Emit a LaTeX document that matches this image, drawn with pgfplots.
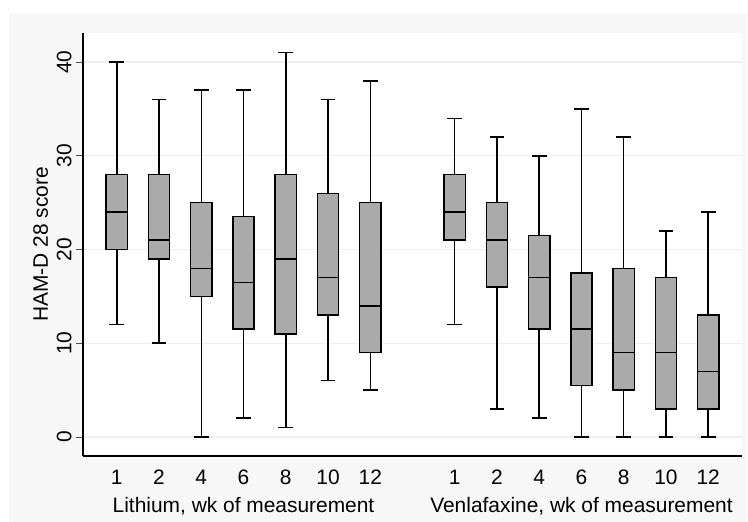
\documentclass[border=0pt]{standalone}
\usepackage{fontspec}
\setmainfont{Liberation Sans}
\usepackage{pgfplots}
\pgfplotsset{compat=1.18}
\usepgfplotslibrary{statistics}
\definecolor{boxgray}{RGB}{170,170,170}
\definecolor{bggray}{RGB}{247,247,247}
\definecolor{gridgray}{RGB}{239,239,239}
\newcommand{\lbl}{\fontsize{21}{25}\selectfont}

\begin{document}
\begin{tikzpicture}
\fill[white] (-83bp,-66bp) rectangle (665bp,456bp);
\fill[bggray] (-74bp,-66bp) rectangle (664bp,443bp);
\begin{axis}[
  at={(0,0)}, anchor=south west, scale only axis,
  width=659bp, height=423bp,
  xmin=0.2, xmax=15.8, ymin=-2.03, ymax=43.1,
  axis background/.style={fill=white},
  axis x line*=bottom, axis y line*=left,
  axis line style={black, line width=1.1bp},
  xtick={1,2,3,4,5,6,7,9,10,11,12,13,14,15},
  xticklabels={1,2,4,6,8,10,12,1,2,4,6,8,10,12},
  ytick={0,10,20,30,40},
  xtick style={draw=none},
  ytick style={black!70, line width=0.8bp},
  tick align=outside, major tick length=7bp,
  ymajorgrids, grid style={gridgray, line width=1.2bp},
  /pgf/number format/assume math mode=true,
  tick label style={font=\lbl},
  xticklabel style={anchor=base, inner sep=0pt, yshift=-21bp},
  yticklabel style={xshift=-4.5bp, rotate=90, anchor=base, inner sep=0pt},
  boxplot/draw direction=y,
  boxplot/box extend=0.5,
  boxplot/whisker extend=0.35,
  boxplot/every box/.style={fill=boxgray},
  clip=false,
]
% Lithium
\addplot[black, line width=1.5bp, boxplot prepared={draw position=1, lower whisker=12, lower quartile=20, median=24, upper quartile=28, upper whisker=40}] coordinates {};
\addplot[black, line width=1.5bp, boxplot prepared={draw position=2, lower whisker=10, lower quartile=19, median=21, upper quartile=28, upper whisker=36}] coordinates {};
\addplot[black, line width=1.5bp, boxplot prepared={draw position=3, lower whisker=0, lower quartile=15, median=18, upper quartile=25, upper whisker=37}] coordinates {};
\addplot[black, line width=1.5bp, boxplot prepared={draw position=4, lower whisker=2, lower quartile=11.5, median=16.5, upper quartile=23.5, upper whisker=37}] coordinates {};
\addplot[black, line width=1.5bp, boxplot prepared={draw position=5, lower whisker=1, lower quartile=11, median=19, upper quartile=28, upper whisker=41}] coordinates {};
\addplot[black, line width=1.5bp, boxplot prepared={draw position=6, lower whisker=6, lower quartile=13, median=17, upper quartile=26, upper whisker=36}] coordinates {};
\addplot[black, line width=1.5bp, boxplot prepared={draw position=7, lower whisker=5, lower quartile=9, median=14, upper quartile=25, upper whisker=38}] coordinates {};
% Venlafaxine
\addplot[black, line width=1.5bp, boxplot prepared={draw position=9, lower whisker=12, lower quartile=21, median=24, upper quartile=28, upper whisker=34}] coordinates {};
\addplot[black, line width=1.5bp, boxplot prepared={draw position=10, lower whisker=3, lower quartile=16, median=21, upper quartile=25, upper whisker=32}] coordinates {};
\addplot[black, line width=1.5bp, boxplot prepared={draw position=11, lower whisker=2, lower quartile=11.5, median=17, upper quartile=21.5, upper whisker=30}] coordinates {};
\addplot[black, line width=1.5bp, boxplot prepared={draw position=12, lower whisker=0, lower quartile=5.5, median=11.5, upper quartile=17.5, upper whisker=35}] coordinates {};
\addplot[black, line width=1.5bp, boxplot prepared={draw position=13, lower whisker=0, lower quartile=5, median=9, upper quartile=18, upper whisker=32}] coordinates {};
\addplot[black, line width=1.5bp, boxplot prepared={draw position=14, lower whisker=0, lower quartile=3, median=9, upper quartile=17, upper whisker=22}] coordinates {};
\addplot[black, line width=1.5bp, boxplot prepared={draw position=15, lower whisker=0, lower quartile=3, median=7, upper quartile=13, upper whisker=24}] coordinates {};

\node[rotate=90, anchor=base, font=\lbl] at ([xshift=-35bp]rel axis cs:0,0.5) {HAM-D 28 score};
\node[anchor=base, font=\lbl] at ([yshift=-56bp]axis cs:4,-2.03) {Lithium, wk of measurement};
\node[anchor=base, font=\lbl] at ([yshift=-56bp]axis cs:12,-2.03) {Venlafaxine, wk of measurement};
\end{axis}
\pgfresetboundingbox
\path (-83bp,-66bp) rectangle (665bp,456bp);
\end{tikzpicture}
\end{document}
